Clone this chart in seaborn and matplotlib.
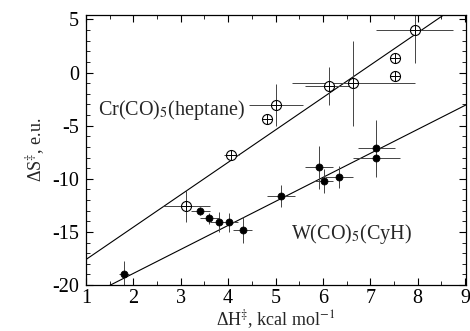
import matplotlib
matplotlib.use("Agg")
import matplotlib.pyplot as plt
import seaborn as sns
import numpy as np
import pandas as pd

# ---- data ----
cr_x = [3.12, 4.07, 4.81, 5.02, 6.13, 6.64, 7.53, 7.53, 7.94]
cr_y = [-12.53, -7.76, -4.37, -3.05, -1.26, -1.0, 1.40, -0.32, 4.01]
cr_xerr = [0.49, 0.16, 0.0, 0.57, 0.50, 1.30, 0.0, 0.0, 0.81]
cr_yerr = [1.50, 0.50, 0.0, 1.95, 1.80, 4.00, 0.0, 0.0, 3.10]

w_x = [1.80, 3.41, 3.60, 3.81, 4.01, 4.31, 5.11, 5.92, 6.02, 6.34, 7.13, 7.13]
w_y = [-18.96, -13.03, -13.72, -14.04, -14.10, -14.80, -11.62, -8.92, -10.20, -9.83, -7.13, -8.00]
w_xerr = [0.10, 0.20, 0.20, 0.20, 0.20, 0.20, 0.30, 0.30, 0.20, 0.30, 0.40, 0.50]
w_yerr = [1.20, 0.40, 0.50, 0.95, 0.90, 1.20, 1.00, 2.00, 1.10, 1.00, 2.70, 1.20]

# linear fits (slope, intercept)
cr_fit = [3.05, -20.65]
w_fit = [2.26, -23.43]

x_ticks = [1, 2, 3, 4, 5, 6, 7, 8, 9]
y_ticks = [-20, -15, -10, -5, 0, 5]

sns.set_style("ticks")
plt.rcParams["font.family"] = ["Liberation Serif", "DejaVu Serif"]
plt.rcParams["mathtext.fontset"] = "stix"
plt.rcParams["axes.unicode_minus"] = False

fig = plt.figure(figsize=(4.7, 3.31), dpi=100)
ax = fig.add_axes([0.183, 0.139, 0.8085, 0.8157])

cr = pd.DataFrame({"x": cr_x, "y": cr_y})
w = pd.DataFrame({"x": w_x, "y": w_y})

# fit lines
xl = np.linspace(1, 9.02, 50)
fits = pd.DataFrame({
    "x": np.concatenate([xl, xl]),
    "y": np.concatenate([cr_fit[0] * xl + cr_fit[1], w_fit[0] * xl + w_fit[1]]),
    "s": ["Cr"] * len(xl) + ["W"] * len(xl),
})
sns.lineplot(data=fits, x="x", y="y", units="s", estimator=None,
             color="black", lw=0.8, ax=ax, legend=False)

# error bars
ax.errorbar(cr_x, cr_y, xerr=cr_xerr, yerr=cr_yerr, fmt="none",
            ecolor="#444444", elinewidth=0.7, capsize=0)
ax.errorbar(w_x, w_y, xerr=w_xerr, yerr=w_yerr, fmt="none",
            ecolor="#444444", elinewidth=0.7, capsize=0)

# markers
sns.scatterplot(data=cr, x="x", y="y", marker="o", s=52, facecolor="white",
                edgecolor="black", linewidth=0.8, ax=ax, zorder=3)
sns.scatterplot(data=cr, x="x", y="y", marker="+", s=52, color="black",
                linewidth=0.7, ax=ax, zorder=4)
sns.scatterplot(data=w, x="x", y="y", marker="o", s=26, color="black",
                edgecolor="black", linewidth=0.5, ax=ax, zorder=3)

ax.set_xlim(1, 9.02)
ax.set_ylim(-20, 5.42)
ax.set_xticks(x_ticks)
ax.set_yticks(y_ticks)
ax.set_xticks(np.arange(1, 9.01, 0.5), minor=True)
ax.set_yticks(np.arange(-20, 5.01, 1), minor=True)
ax.tick_params(which="both", direction="in", top=True, right=True,
               labelsize=14.5, colors="black")
ax.tick_params(axis="x", which="both", pad=3)
ax.tick_params(axis="y", which="both", pad=5)
ax.tick_params(which="major", length=5, width=0.8)
ax.tick_params(which="minor", length=3, width=0.6)
for sp in ax.spines.values():
    sp.set_visible(True)
    sp.set_linewidth(0.9)
    sp.set_color("black")

ax.set_xlabel("ΔH$^{‡}$, kcal mol$^{-1}$", fontsize=13, labelpad=0)
ax.set_ylabel("ΔS$^{‡}$, e.u.", fontsize=13, labelpad=4)

ax.text(1.26, -3.99, "Cr(CO)$_5$(heptane)", fontsize=14.5, va="baseline", ha="left")
ax.text(5.32, -15.67, "W(CO)$_5$(CyH)", fontsize=14.5, va="baseline", ha="left")

fig.savefig("out.png", dpi=100)
